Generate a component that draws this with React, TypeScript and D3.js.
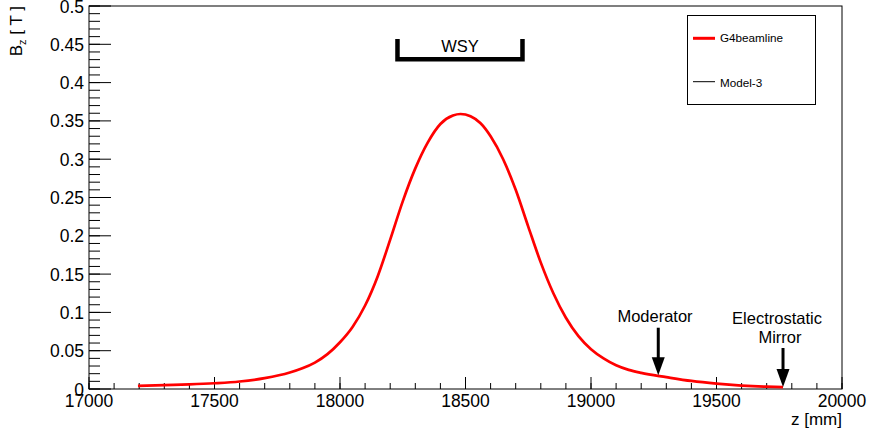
import React from "react";
import * as d3 from "d3";

// z [mm] and Bz [T]
const zValues = [17195, 17300, 17400, 17500, 17600, 17700, 17800, 17850, 17900, 17950, 18000, 18050, 18100, 18150, 18200, 18250, 18300, 18350, 18400, 18450, 18480, 18520, 18560, 18600, 18650, 18700, 18750, 18800, 18850, 18900, 18950, 19000, 19050, 19100, 19150, 19200, 19300, 19400, 19500, 19600, 19700, 19765];
const bzValues = [0.004, 0.005, 0.006, 0.0075, 0.0098, 0.0142, 0.0215, 0.027, 0.0345, 0.0455, 0.061, 0.081, 0.109, 0.147, 0.195, 0.245, 0.288, 0.322, 0.346, 0.357, 0.359, 0.356, 0.347, 0.330, 0.300, 0.260, 0.212, 0.165, 0.125, 0.093, 0.069, 0.052, 0.040, 0.031, 0.025, 0.021, 0.0155, 0.0105, 0.007, 0.0045, 0.003, 0.0025];

const xMajorTicks = [17000, 17500, 18000, 18500, 19000, 19500, 20000];
const xMinorTicks = d3.range(17000, 20001, 100);
const yMajorTicks = [0, 0.05, 0.1, 0.15, 0.2, 0.25, 0.3, 0.35, 0.4, 0.45, 0.5];
const yMinorTicks = d3.range(0, 0.5001, 0.01);

const legendLabels = ["G4beamline", "Model-3"];
const legendColors = ["#ff0000", "#000000"];

// Annotations (data coordinates)
const wsyRange = [18229, 18727];
const wsyB = [0.457, 0.4305];
const arrowZ = [19268, 19765];
const arrowTopB = [0.08, 0.0535];
const arrowTipB = [0.018, 0.0026];

const FONT = "'Liberation Sans', Arial, Helvetica, sans-serif";

export default function App() {
  const W = 870, H = 437;
  const left = 89, right = 842, top = 6, bottom = 389;
  const x = d3.scaleLinear().domain([17000, 20000]).range([left, right]);
  const y = d3.scaleLinear().domain([0, 0.5]).range([bottom, top]);
  const pts = zValues.map((z, i) => [z, bzValues[i]] as [number, number]);
  const line = d3.line<[number, number]>().x(d => x(d[0])).y(d => y(d[1])).curve(d3.curveMonotoneX);

  const yFmt = (v: number) => (v === 0 ? "0" : String(+v.toFixed(2)));

  const arrow = (zi: number, key: string) => {
    const xc = x(arrowZ[zi]);
    const yTop = y(arrowTopB[zi]);
    const yTip = y(arrowTipB[zi]);
    const headH = 18, headW = 13;
    return (
      <g key={key}>
        <line x1={xc} x2={xc} y1={yTop} y2={yTip - headH + 1} stroke="#000" strokeWidth={3} />
        <polygon points={`${xc - headW / 2},${yTip - headH} ${xc + headW / 2},${yTip - headH} ${xc},${yTip}`} fill="#000" />
      </g>
    );
  };

  return (
    <svg width={W} height={H} style={{ position: "absolute", left: 0, top: 0, background: "#fff" }} fontFamily={FONT}>
      <rect x={0} y={0} width={W} height={H} fill="#fff" />
      {/* minor ticks */}
      {xMinorTicks.map(t => (
        <line key={"xm" + t} x1={x(t)} x2={x(t)} y1={bottom} y2={bottom - 6} stroke="#000" strokeWidth={1} />
      ))}
      {xMajorTicks.map(t => (
        <line key={"xM" + t} x1={x(t)} x2={x(t)} y1={bottom} y2={bottom - 12} stroke="#000" strokeWidth={1} />
      ))}
      {yMinorTicks.map(t => (
        <line key={"ym" + t} x1={left} x2={left + 11} y1={y(t)} y2={y(t)} stroke="#000" strokeWidth={1} />
      ))}
      {yMajorTicks.map(t => (
        <line key={"yM" + t} x1={left} x2={left + 22} y1={y(t)} y2={y(t)} stroke="#000" strokeWidth={1} />
      ))}
      {/* frame */}
      <rect x={left} y={top} width={right - left} height={bottom - top} fill="none" stroke="#000" strokeWidth={1} />
      {/* tick labels */}
      {xMajorTicks.map(t => (
        <text key={"xl" + t} x={x(t)} y={407} textAnchor="middle" fontSize={17.5} fill="#000">{t}</text>
      ))}
      {yMajorTicks.map(t => (
        <text key={"yl" + t} x={84} y={y(t) + 6.5} textAnchor="end" fontSize={17.5} fill="#000">{yFmt(t)}</text>
      ))}
      {/* axis titles */}
      <text x={right} y={425} textAnchor="end" fontSize={17} fill="#000">z [mm]</text>
      <text transform={`translate(22,${top}) rotate(-90)`} textAnchor="end" fontSize={17} fill="#000">
        B<tspan fontSize={11} dy={4}>z</tspan><tspan dy={-4}> [ T ]</tspan>
      </text>
      {/* curve */}
      <path d={line(pts) || ""} fill="none" stroke="#ff0000" strokeWidth={2.7} strokeLinejoin="round" />
      {/* WSY bracket */}
      <path
        d={`M${x(wsyRange[0])},${y(wsyB[0])} L${x(wsyRange[0])},${y(wsyB[1])} L${x(wsyRange[1])},${y(wsyB[1])} L${x(wsyRange[1])},${y(wsyB[0])}`}
        fill="none" stroke="#000" strokeWidth={4.5} />
      <text x={(x(wsyRange[0]) + x(wsyRange[1])) / 2} y={52} textAnchor="middle" fontSize={16.5} fill="#000">WSY</text>
      {/* arrows */}
      {arrow(0, "a0")}
      {arrow(1, "a1")}
      <text x={655} y={322} textAnchor="middle" fontSize={16.5} fill="#000">Moderator</text>
      <text x={777} y={324} textAnchor="middle" fontSize={16.5} fill="#000">Electrostatic</text>
      <text x={780} y={343} textAnchor="middle" fontSize={16.5} fill="#000">Mirror</text>
      {/* legend */}
      <rect x={687.5} y={15.5} width={128} height={89} fill="#fff" stroke="#000" strokeWidth={1} />
      {legendLabels.map((lab, i) => (
        <g key={lab}>
          <line x1={693} x2={715} y1={i === 0 ? 38.3 : 81.7} y2={i === 0 ? 38.3 : 81.7} stroke={legendColors[i]} strokeWidth={i === 0 ? 3 : 1} />
          <text x={720} y={i === 0 ? 41.8 : 86.8} fontSize={11.7} fill="#000">{lab}</text>
        </g>
      ))}
    </svg>
  );
}
